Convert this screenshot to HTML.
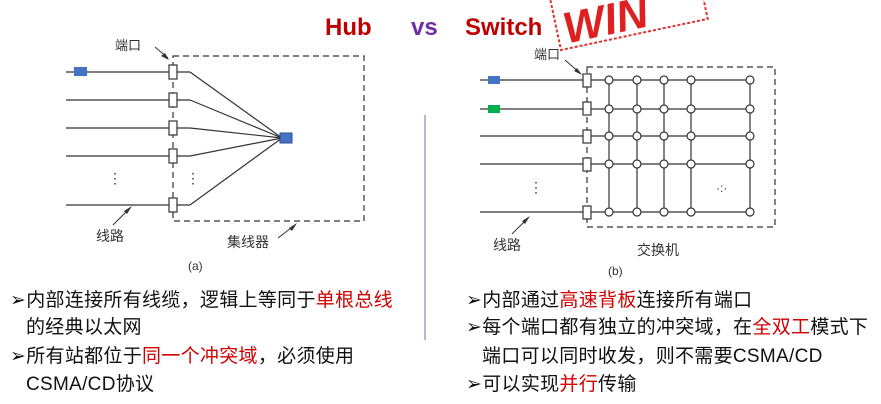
<!DOCTYPE html>
<html><head><meta charset="utf-8"><style>
body{margin:0;background:#fff;width:881px;height:404px;overflow:hidden;position:relative;font-family:"Liberation Sans","Noto Sans CJK SC",sans-serif}
.t{position:absolute;font-size:19px;line-height:20px;white-space:nowrap;color:#111;letter-spacing:0.3px}
.r{color:#d00000}
svg{position:absolute;left:0;top:0}
</style></head><body>
<svg width="881" height="404" font-family="Liberation Sans, Noto Sans CJK SC, sans-serif">
<text x="325" y="35" font-size="24" font-weight="bold" fill="#c00000">Hub</text>
<text x="411" y="35" font-size="24" font-weight="bold" fill="#7030a0">vs</text>
<text x="465" y="35" font-size="24" font-weight="bold" fill="#c00000">Switch</text>
<g transform="rotate(-12 620 15)">
<rect x="555" y="-25" width="150" height="62" fill="none" stroke="#e03030" stroke-width="2" stroke-dasharray="3 2"/>
<text x="562" y="32" font-size="44" font-weight="bold" fill="#e02020" font-style="italic">WIN</text>
</g>
<line x1="425" y1="115" x2="425" y2="340" stroke="#5a7ab8" stroke-width="1"/>

<g stroke="#333" stroke-width="1.2" fill="none">
<rect x="173" y="56" width="191" height="165" stroke-dasharray="6 4"/>
<line x1="66" y1="72" x2="190" y2="72"/><line x1="66" y1="100" x2="190" y2="100"/>
<line x1="66" y1="128" x2="190" y2="128"/><line x1="66" y1="156" x2="190" y2="156"/>
<line x1="66" y1="205" x2="190" y2="205"/>
<line x1="190" y1="72" x2="282" y2="138"/><line x1="190" y1="100" x2="282" y2="138"/>
<line x1="190" y1="128" x2="282" y2="138"/><line x1="190" y1="156" x2="282" y2="138"/>
<line x1="190" y1="205" x2="282" y2="138"/>
</g>
<g fill="#fff" stroke="#333" stroke-width="1.2">
<rect x="169" y="65" width="8" height="14"/><rect x="169" y="93" width="8" height="14"/>
<rect x="169" y="121" width="8" height="14"/><rect x="169" y="149" width="8" height="14"/>
<rect x="169" y="198" width="8" height="14"/>
</g>
<rect x="74" y="67" width="13" height="9" fill="#4472c4"/>
<rect x="280" y="133" width="12" height="10" fill="#4472c4" stroke="#2f528f"/>
<text x="108" y="183" font-size="14" fill="#333">⋮</text><text x="186" y="183" font-size="14" fill="#333">⋮</text>
<text x="115" y="50" font-size="13" fill="#333">端口</text>
<line x1="155" y1="47" x2="168" y2="58" stroke="#333"/><polygon points="169,60 161,56 165,53" fill="#333"/>
<text x="96" y="241" font-size="14" fill="#333">线路</text>
<line x1="113" y1="225" x2="130" y2="208" stroke="#333"/><polygon points="132,206 127,214 124,211" fill="#333"/>
<text x="227" y="247" font-size="14" fill="#333">集线器</text>
<line x1="278" y1="238" x2="295" y2="225" stroke="#333"/><polygon points="297,223 292,231 289,228" fill="#333"/>
<text x="188" y="270" font-size="12" fill="#333">(a)</text>

<g stroke="#333" stroke-width="1.2" fill="none">
<rect x="587" y="67" width="188" height="160" stroke-dasharray="6 4"/>
<line x1="480" y1="80" x2="750" y2="80"/><line x1="480" y1="109" x2="750" y2="109"/>
<line x1="480" y1="136" x2="750" y2="136"/><line x1="480" y1="164" x2="750" y2="164"/>
<line x1="480" y1="212" x2="750" y2="212"/>
<line x1="609" y1="80" x2="609" y2="212"/><line x1="637" y1="80" x2="637" y2="212"/>
<line x1="664" y1="80" x2="664" y2="212"/><line x1="691" y1="80" x2="691" y2="212"/>
<line x1="750" y1="80" x2="750" y2="212"/>
</g>
<g fill="#fff" stroke="#333" stroke-width="1.2">
<rect x="583" y="74" width="8" height="13"/><rect x="583" y="102" width="8" height="13"/>
<rect x="583" y="130" width="8" height="13"/><rect x="583" y="158" width="8" height="13"/>
<rect x="583" y="206" width="8" height="13"/>
</g>
<g fill="#fff" stroke="#333" stroke-width="1.2">
<circle cx="609" cy="80" r="4"/><circle cx="637" cy="80" r="4"/><circle cx="664" cy="80" r="4"/><circle cx="691" cy="80" r="4"/><circle cx="750" cy="80" r="4"/>
<circle cx="609" cy="109" r="4"/><circle cx="637" cy="109" r="4"/><circle cx="664" cy="109" r="4"/><circle cx="691" cy="109" r="4"/><circle cx="750" cy="109" r="4"/>
<circle cx="609" cy="136" r="4"/><circle cx="637" cy="136" r="4"/><circle cx="664" cy="136" r="4"/><circle cx="691" cy="136" r="4"/><circle cx="750" cy="136" r="4"/>
<circle cx="609" cy="164" r="4"/><circle cx="637" cy="164" r="4"/><circle cx="664" cy="164" r="4"/><circle cx="691" cy="164" r="4"/><circle cx="750" cy="164" r="4"/>
<circle cx="609" cy="212" r="4"/><circle cx="637" cy="212" r="4"/><circle cx="664" cy="212" r="4"/><circle cx="691" cy="212" r="4"/><circle cx="750" cy="212" r="4"/>
</g>
<rect x="488" y="76" width="12" height="8" fill="#4472c4"/>
<rect x="488" y="105" width="12" height="8" fill="#00b050"/>
<text x="529" y="192" font-size="14" fill="#333">⋮</text><text x="716" y="192" font-size="12" fill="#333">·:·</text>
<text x="534" y="59" font-size="13" fill="#333">端口</text>
<line x1="565" y1="60" x2="580" y2="73" stroke="#333"/><polygon points="582,75 574,71 577,68" fill="#333"/>
<text x="493" y="250" font-size="14" fill="#333">线路</text>
<line x1="512" y1="234" x2="528" y2="218" stroke="#333"/><polygon points="530,216 525,224 522,221" fill="#333"/>
<text x="637" y="255" font-size="14" fill="#333">交换机</text>
<text x="608" y="275" font-size="12" fill="#333">(b)</text>
</svg>

<div class="t" style="left:10px;top:291px">➢内部连接所有线缆，逻辑上等同于<span class="r">单根总线</span></div>
<div class="t" style="left:26px;top:318px">的经典以太网</div>
<div class="t" style="left:10px;top:347px">➢所有站都位于<span class="r">同一个冲突域</span>，必须使用</div>
<div class="t" style="left:26px;top:375px">CSMA/CD协议</div>
<div class="t" style="left:466px;top:291px">➢内部通过<span class="r">高速背板</span>连接所有端口</div>
<div class="t" style="left:466px;top:318px">➢每个端口都有独立的冲突域，在<span class="r">全双工</span>模式下</div>
<div class="t" style="left:482px;top:347px">端口可以同时收发，则不需要CSMA/CD</div>
<div class="t" style="left:466px;top:375px">➢可以实现<span class="r">并行</span>传输</div>
</body></html>
